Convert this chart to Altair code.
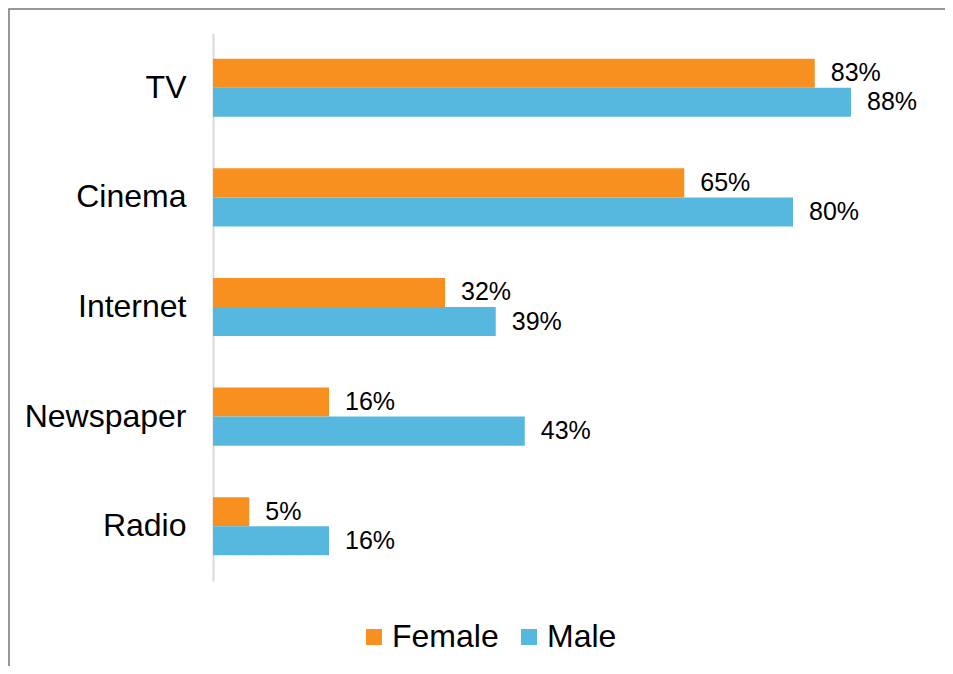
import altair as alt
import pandas as pd

categories = ["TV", "Cinema", "Internet", "Newspaper", "Radio"]
female = [83, 65, 32, 16, 5]
male = [88, 80, 39, 43, 16]
series = ["Female", "Male"]
colors = ["#F7901E", "#56B8DE"]

rows = []
for c, f, m in zip(categories, female, male):
    rows.append({"category": c, "series": "Female", "value": f})
    rows.append({"category": c, "series": "Male", "value": m})
df = pd.DataFrame(rows)

FONT = "Liberation Sans"

y = alt.Y(
    "category:N",
    sort=categories,
    scale=alt.Scale(paddingInner=0.47, paddingOuter=0.235),
    axis=alt.Axis(
        title=None, ticks=False, labelFontSize=32, labelPadding=27,
        domainColor="#D9D9D9", domainWidth=2, labelColor="#000000",
        labelFont=FONT, grid=False, labelLimit=400,
    ),
)
x = alt.X("value:Q", scale=alt.Scale(domain=[0, 100]), axis=None)
yoff = alt.YOffset("series:N", sort=series, scale=alt.Scale(paddingInner=0, paddingOuter=0))
color = alt.Color(
    "series:N",
    sort=series,
    scale=alt.Scale(domain=series, range=colors),
    legend=alt.Legend(
        title=None, orient="none", legendX=145, legendY=588, direction="horizontal",
        symbolType="square", symbolSize=256, symbolStrokeWidth=0, symbolOpacity=1,
        labelFontSize=32, labelFont=FONT, labelColor="#000000", labelOffset=2,
        columnPadding=14, labelLimit=400,
    ),
)

border = alt.Chart(pd.DataFrame({"k": [0]})).mark_rect(
    fill="transparent", stroke="#767676", strokeWidth=1.5
).encode(
    x=alt.value(-204), x2=alt.value(900), y=alt.value(-24), y2=alt.value(800)
)

bars = alt.Chart(df).mark_bar().encode(y=y, x=x, yOffset=yoff, color=color)

labels = alt.Chart(df).transform_calculate(
    label="datum.value + '%'"
).mark_text(
    align="left", baseline="middle", dx=16, fontSize=25, font=FONT, color="#000000"
).encode(y=y, x=x, yOffset=yoff, text="label:N")

chart = alt.layer(border, bars, labels).properties(
    width=725, height=548,
    autosize=alt.AutoSizeParams(type="none"),
    padding={"left": 205, "top": 25, "right": 7, "bottom": 85},
    background="white",
).configure_view(stroke="transparent", strokeWidth=0)

chart.save("out.html", embed_options={"renderer": "svg", "actions": False})
